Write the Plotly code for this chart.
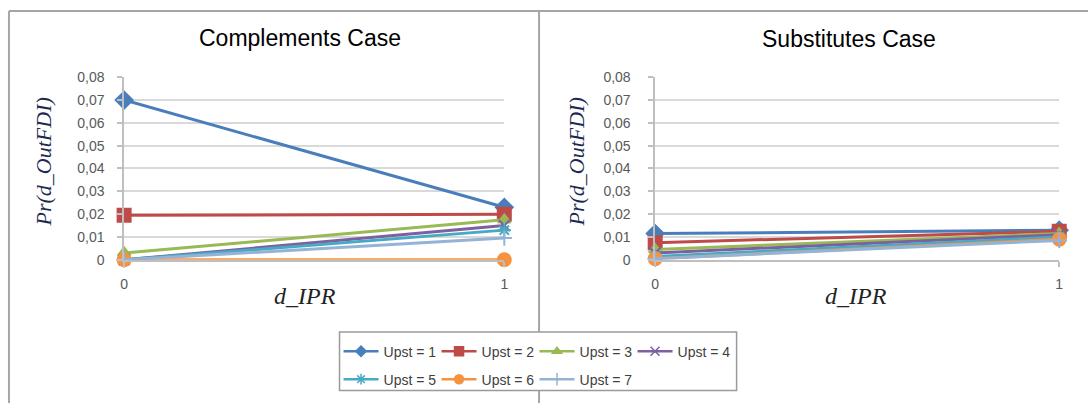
import plotly.graph_objects as go

W, H = 1092, 411

# data
d_ipr = [0, 1]
series_names = ["Upst = 1", "Upst = 2", "Upst = 3", "Upst = 4",
                "Upst = 5", "Upst = 6", "Upst = 7"]
complements_values = [
    [0.070, 0.023],
    [0.0195, 0.020],
    [0.003, 0.0175],
    [0.0, 0.015],
    [0.0, 0.013],
    [0.0, 0.0],
    [0.0, 0.0095],
]
substitutes_values = [
    [0.0115, 0.013],
    [0.0075, 0.0125],
    [0.0045, 0.0115],
    [0.003, 0.011],
    [0.0015, 0.010],
    [0.0005, 0.009],
    [0.0005, 0.0085],
]
y_tickvals = [0, 0.01, 0.02, 0.03, 0.04, 0.05, 0.06, 0.07, 0.08]
y_ticktext = ["0", "0,01", "0,02", "0,03", "0,04", "0,05", "0,06", "0,07", "0,08"]
x_ticktext = ["0", "1"]
panel_titles = ["Complements Case", "Substitutes Case"]

# styles
colors = ["#4A7EBB", "#BE4B48", "#98B954", "#7D60A0", "#46AAC5", "#F69240", "#94B3D6"]
symbols = ["diamond", "square", "triangle-up", "x-thin-open",
           "asterisk-open", "circle", "cross-thin-open"]
sizes = [13, 13, 11, 11, 11, 13, 11]
legend_sizes = [8, 9, 8, 9, 9, 9, 9]


def fx(p):
    return p / W


def fy(p):
    return 1 - p / H


fig = go.Figure()

for panel, values in enumerate([complements_values, substitutes_values]):
    xa = "x" if panel == 0 else "x2"
    ya = "y" if panel == 0 else "y2"
    for i, vals in enumerate(values):
        fig.add_trace(go.Scatter(
            x=d_ipr, y=vals, mode="lines+markers", xaxis=xa, yaxis=ya,
            name=series_names[i], showlegend=False, cliponaxis=False,
            line=dict(color=colors[i], width=3),
            marker=dict(symbol=symbols[i], size=sizes[i], color=colors[i],
                        line=dict(color=colors[i], width=2)),
        ))

# legend entries (two rows)
for i, name in enumerate(series_names):
    fig.add_trace(go.Scatter(
        x=[None], y=[None], mode="lines+markers", name=name,
        legend="legend" if i < 4 else "legend2",
        line=dict(color=colors[i], width=2.5),
        marker=dict(symbol=symbols[i], size=legend_sizes[i], color=colors[i],
                    line=dict(color=colors[i], width=1.5)),
    ))

tick_font = dict(family="Liberation Sans", size=14, color="#595959")
axis_common = dict(showline=True, linecolor="#BFBFBF", linewidth=1.5,
                   ticks="outside", ticklen=5, tickcolor="#BFBFBF", tickwidth=1.5,
                   zeroline=False, tickfont=tick_font)
legend_font = dict(family="Liberation Sans", size=14, color="#404040")

fig.update_layout(
    width=W, height=H,
    margin=dict(l=0, r=0, t=0, b=0),
    paper_bgcolor="white", plot_bgcolor="white",
    xaxis=dict(domain=[fx(121), fx(504)], range=[0, 1], tickvals=d_ipr,
               ticktext=x_ticktext, showgrid=False, anchor="y",
               ticklabelstandoff=6, **axis_common),
    yaxis=dict(domain=[fy(262), fy(72)], range=[0, 0.08], tickvals=y_tickvals,
               ticktext=y_ticktext, showgrid=True, gridcolor="#D9D9D9",
               gridwidth=1.5, anchor="x", ticklabelstandoff=10, **axis_common),
    xaxis2=dict(domain=[fx(656), fx(1063)], range=[0, 1], tickvals=d_ipr,
                ticktext=x_ticktext, showgrid=False, anchor="y2",
                ticklabelstandoff=6, **axis_common),
    yaxis2=dict(domain=[fy(262), fy(72)], range=[0, 0.08], tickvals=y_tickvals,
                ticktext=y_ticktext, showgrid=True, gridcolor="#D9D9D9",
                gridwidth=1.5, anchor="x2", ticklabelstandoff=15, **axis_common),
    legend=dict(orientation="h", x=fx(337), y=fy(341), xanchor="left", yanchor="top",
                bgcolor="rgba(0,0,0,0)", borderwidth=0, itemwidth=35,
                entrywidth=48, entrywidthmode="pixels", tracegroupgap=0,
                font=legend_font),
    legend2=dict(orientation="h", x=fx(337), y=fy(370), xanchor="left", yanchor="top",
                 bgcolor="rgba(0,0,0,0)", borderwidth=0, itemwidth=35,
                 entrywidth=48, entrywidthmode="pixels", tracegroupgap=0,
                 font=legend_font),
)

border = dict(color="#A6A6A6", width=2)
shapes = [
    # outer frame: top and left edges, divider between the two charts
    dict(type="line", xref="paper", yref="paper", x0=fx(5), x1=1, y0=fy(3), y1=fy(3), line=border),
    dict(type="line", xref="paper", yref="paper", x0=fx(5), x1=fx(5), y0=fy(3), y1=0, line=border),
    dict(type="line", xref="paper", yref="paper", x0=fx(539), x1=fx(539), y0=fy(3), y1=0, line=border),
    # legend box
    dict(type="rect", xref="paper", yref="paper", x0=fx(338), x1=fx(738), y0=fy(398), y1=fy(337),
         fillcolor="white", line=dict(color="#9A9A9A", width=1.5), layer="above"),
]
fig.update_layout(shapes=shapes)

title_font = dict(family="Liberation Sans", size=23, color="#000000")
ytitle_font = dict(family="Liberation Serif", size=22, color="#1C2A52")
xtitle_font = dict(family="Liberation Serif", size=24, color="#222222")
annotations = [
    dict(text=panel_titles[0], x=fx(298), y=fy(31), font=title_font),
    dict(text=panel_titles[1], x=fx(851), y=fy(32), font=title_font),
    dict(text="<i>Pr(d_OutFDI)</i>", x=fx(40), y=fy(160), textangle=-90, font=ytitle_font),
    dict(text="<i>Pr(d_OutFDI)</i>", x=fx(577), y=fy(160), textangle=-90, font=ytitle_font),
    dict(text="<i>d_IPR</i>", x=fx(303), y=fy(300), font=xtitle_font),
    dict(text="<i>d_IPR</i>", x=fx(858), y=fy(300), font=xtitle_font),
]
for a in annotations:
    a.update(xref="paper", yref="paper", showarrow=False, xanchor="center", yanchor="middle")
fig.update_layout(annotations=annotations)

fig.write_html("out.html")
